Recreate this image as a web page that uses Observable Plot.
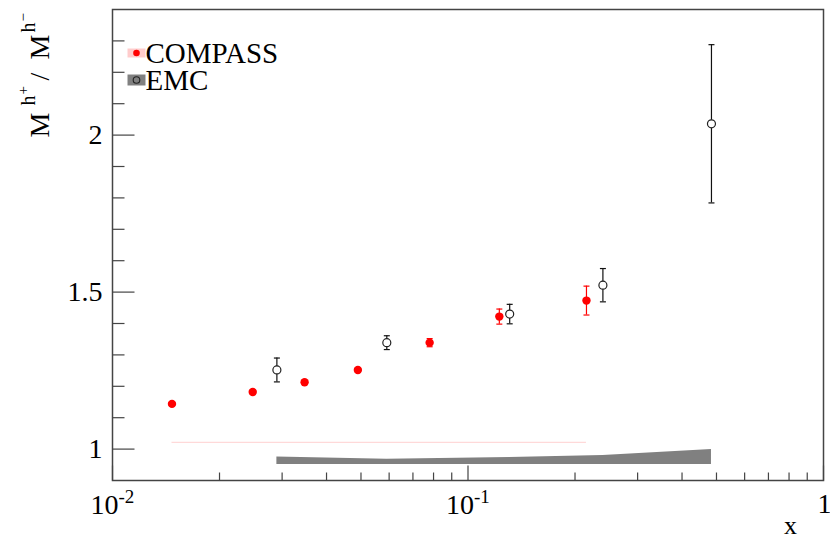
<!DOCTYPE html>
<html>
<head>
<meta charset="utf-8">
<script src="https://cdn.jsdelivr.net/npm/d3@7"></script>
<script src="https://cdn.jsdelivr.net/npm/@observablehq/plot@0.6"></script>
<style>
  html, body { margin: 0; padding: 0; background: #fff; }
  #chart svg { display: block; }
  #chart svg text { font-family: "Liberation Serif", serif; }
</style>
</head>
<body>
<div id="chart"></div>
<script>
// Ratio of positive to negative hadron multiplicities versus Bjorken x.
const seriesNames = ["COMPASS", "EMC"];

// COMPASS points, statistical errors and systematic band heights
const compassX = [0.0147, 0.0248, 0.0347, 0.049, 0.078, 0.1225, 0.2154];
const compassY = [1.144, 1.182, 1.213, 1.252, 1.339, 1.422, 1.473];
const compassErr = [0.005, 0.006, 0.006, 0.007, 0.013, 0.024, 0.046];
const compassSys = [0.004, 0.004, 0.004, 0.004, 0.004, 0.004, 0.004];
const compassSysBase = 1.018;

// EMC points, statistical errors and systematic band heights
const emcX = [0.029, 0.0591, 0.131, 0.2396, 0.484];
const emcY = [1.252, 1.339, 1.430, 1.522, 2.036];
const emcErr = [0.038, 0.022, 0.031, 0.053, 0.252];
const emcSys = [0.024, 0.017, 0.022, 0.029, 0.048];
const emcSysBase = 0.951;

// Axis ticks and labels
const xMajorTicks = [0.01, 0.1, 1];
const xMinorTicks = [0.02, 0.03, 0.04, 0.05, 0.06, 0.07, 0.08, 0.09,
                     0.2, 0.3, 0.4, 0.5, 0.6, 0.7, 0.8, 0.9];
const xTickBase = ["10", "10", "1"];
const xTickExp = ["-2", "-1", ""];
const yMajorTicks = [1, 1.5, 2];
const yMinorTicks = [1.1, 1.2, 1.3, 1.4, 1.6, 1.7, 1.8, 1.9, 2.1, 2.2, 2.3];
const yTickLabels = ["1", "1.5", "2"];

const compass = compassX.map((x, i) => ({x, y: compassY[i], err: compassErr[i], sys: compassSys[i]}));
const emc = emcX.map((x, i) => ({x, y: emcY[i], err: emcErr[i], sys: emcSys[i]}));
const xLabels = xMajorTicks.map((v, i) => ({v, base: xTickBase[i], exp: xTickExp[i]}));

const serif = "Liberation Serif";
const axisColor = "#444";

// Small path symbols: inward tick strokes, error-bar caps and legend boxes
const tickRight = (len) => ({draw(ctx) { ctx.moveTo(0, 0); ctx.lineTo(len, 0); }});
const tickUp = (len) => ({draw(ctx) { ctx.moveTo(0, 0); ctx.lineTo(0, -len); }});
const cap = (w) => ({draw(ctx) { ctx.moveTo(-w / 2, 0); ctx.lineTo(w / 2, 0); }});
const box = (w, h) => ({draw(ctx) { ctx.rect(-w / 2, -h / 2, w, h); }});

const errorBars = (data, color) => [
  Plot.ruleX(data, {x: "x", y1: (d) => d.y - d.err, y2: (d) => d.y + d.err, stroke: color, strokeWidth: 1.2}),
  Plot.dot(data, {x: "x", y: (d) => d.y + d.err, symbol: cap(6), stroke: color, strokeWidth: 1.2, fill: "none"}),
  Plot.dot(data, {x: "x", y: (d) => d.y - d.err, symbol: cap(6), stroke: color, strokeWidth: 1.2, fill: "none"})
];

// Rotated text piece of the y-axis title, offset from the frame's top-left corner
const titlePiece = (s, dx, dy, fontSize) => Plot.text([s], {
  text: (d) => d, frameAnchor: "top-left", rotate: -90, textAnchor: "start", lineAnchor: "bottom",
  dx, dy, fontSize, fontFamily: serif, fill: "#000"
});

const chart = Plot.plot({
  width: 830,
  height: 539,
  marginLeft: 112,
  marginRight: 7,
  marginTop: 9,
  marginBottom: 59,
  style: {fontFamily: serif, background: "#fff", color: "#000"},
  x: {type: "log", domain: [0.01, 1], axis: null},
  y: {domain: [0.9, 2.4], axis: null},
  marks: [
    // systematic bands
    Plot.areaY(compass, {x: "x", y1: compassSysBase, y2: (d) => compassSysBase + d.sys, fill: "#ff0000", fillOpacity: 0.15}),
    Plot.areaY(emc, {x: "x", y1: emcSysBase, y2: (d) => emcSysBase + d.sys, fill: "#808080"}),

    // statistical errors and points
    ...errorBars(compass, "#ff0000"),
    ...errorBars(emc, "#111"),
    Plot.dot(compass, {x: "x", y: "y", r: 4.2, fill: "#ff0000", stroke: "none"}),
    Plot.dot(emc, {x: "x", y: "y", r: 4, fill: "#fff", stroke: "#222", strokeWidth: 1.2}),

    // frame and inward ticks
    Plot.frame({stroke: axisColor, strokeWidth: 1.5}),
    Plot.dot(yMajorTicks, {y: (d) => d, frameAnchor: "left", symbol: tickRight(22), stroke: axisColor, strokeWidth: 1.2, fill: "none"}),
    Plot.dot(yMinorTicks, {y: (d) => d, frameAnchor: "left", symbol: tickRight(12), stroke: axisColor, strokeWidth: 1.2, fill: "none"}),
    Plot.dot(xMajorTicks, {x: (d) => d, frameAnchor: "bottom", symbol: tickUp(15), stroke: axisColor, strokeWidth: 1.2, fill: "none"}),
    Plot.dot(xMinorTicks, {x: (d) => d, frameAnchor: "bottom", symbol: tickUp(8), stroke: axisColor, strokeWidth: 1.2, fill: "none"}),

    // y tick labels
    Plot.text(yMajorTicks, {y: (d) => d, text: (d, i) => yTickLabels[i], frameAnchor: "left", textAnchor: "end",
      lineAnchor: "middle", dx: -10, fontSize: 28, fontFamily: serif, fill: "#000"}),

    // x tick labels: powers of ten with raised exponents
    Plot.text(xLabels.filter((d) => d.exp), {x: "v", text: "base", frameAnchor: "bottom", textAnchor: "end",
      lineAnchor: "bottom", dx: 6, dy: 33, fontSize: 28, fontFamily: serif, fill: "#000"}),
    Plot.text(xLabels.filter((d) => d.exp), {x: "v", text: "exp", frameAnchor: "bottom", textAnchor: "start",
      lineAnchor: "bottom", dx: 6, dy: 22, fontSize: 19, fontFamily: serif, fill: "#000"}),
    Plot.text(xLabels.filter((d) => !d.exp), {x: "v", text: "base", frameAnchor: "bottom", textAnchor: "middle",
      lineAnchor: "bottom", dx: 1, dy: 32, fontSize: 28, fontFamily: serif, fill: "#000"}),

    // x axis title
    Plot.text(["x"], {text: (d) => d, frameAnchor: "bottom-right", textAnchor: "middle", lineAnchor: "bottom",
      dx: -33, dy: 53, fontSize: 26, fontFamily: serif, fill: "#000"}),

    // y axis title  M^{h+} / M^{h-}, read bottom to top
    titlePiece("M", -64, 128, 28),
    titlePiece("h", -78, 96, 20),
    titlePiece("+", -85, 85, 15),
    titlePiece("/", -64, 71, 28),
    titlePiece("M", -64, 50, 28),
    titlePiece("h", -78, 23, 20),
    titlePiece("\u2212", -85, 12, 15),

    // legend
    Plot.dot([seriesNames[0]], {frameAnchor: "top-left", dx: 24, dy: 43.5, symbol: box(18, 9), fill: "#ff0000", fillOpacity: 0.2, stroke: "none"}),
    Plot.dot([seriesNames[0]], {frameAnchor: "top-left", dx: 24, dy: 43.5, r: 3.3, fill: "#ff0000", stroke: "none"}),
    Plot.dot([seriesNames[1]], {frameAnchor: "top-left", dx: 24, dy: 70.5, symbol: box(18, 11), fill: "#808080", stroke: "none"}),
    Plot.dot([seriesNames[1]], {frameAnchor: "top-left", dx: 24, dy: 70.5, r: 3.3, fill: "none", stroke: "#222", strokeWidth: 1.1}),
    Plot.text([seriesNames[0]], {text: (d) => d, frameAnchor: "top-left", textAnchor: "start", lineAnchor: "bottom",
      dx: 33, dy: 53.5, fontSize: 29, fontFamily: serif, fill: "#000"}),
    Plot.text([seriesNames[1]], {text: (d) => d, frameAnchor: "top-left", textAnchor: "start", lineAnchor: "bottom",
      dx: 33, dy: 80, fontSize: 29, fontFamily: serif, fill: "#000"})
  ]
});

document.getElementById("chart").append(chart);
</script>
</body>
</html>
